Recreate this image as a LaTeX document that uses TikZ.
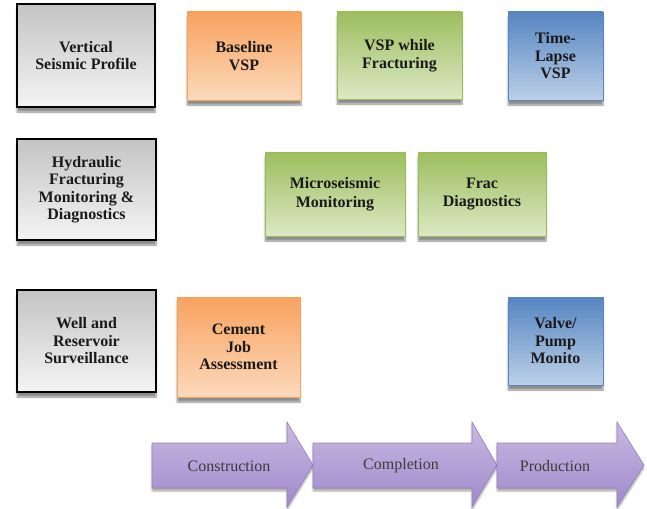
\documentclass[tikz,border=0pt]{standalone}
\usepackage{fontspec}
\setmainfont{Liberation Serif}
\newfontfamily\tnr{Liberation Serif}
\usetikzlibrary{shadows.blur}
\definecolor{grayT}{HTML}{C4C4C4}
\definecolor{grayB}{HTML}{F4F4F4}
\definecolor{orT}{HTML}{F8A25E}
\definecolor{orB}{HTML}{FCD9BC}
\definecolor{orD}{HTML}{F2A35E}
\definecolor{grT}{HTML}{9DBE5E}
\definecolor{grB}{HTML}{DCE8C4}
\definecolor{grD}{HTML}{9BBB59}
\definecolor{blT}{HTML}{5585C1}
\definecolor{blB}{HTML}{BCD0E8}
\definecolor{blD}{HTML}{5A84BC}
\definecolor{puT}{HTML}{C9B8E2}
\definecolor{puB}{HTML}{A08ACB}
\definecolor{puD}{HTML}{9480BA}
\definecolor{txt}{HTML}{1A1A1A}
\tikzset{
  base/.style={align=center, text=txt, font=\tnr\fontsize{16}{17.5}\selectfont\bfseries,
    inner sep=2pt, shading=axis, shading angle=0,
    blur shadow={shadow xshift=0pt, shadow yshift=-5pt, shadow blur steps=6, shadow opacity=45}},
  catbox/.style={base, draw=black, line width=2.2pt, top color=grayT, bottom color=grayB},
  orbox/.style={base, draw=orD, line width=0.6pt, top color=orT, bottom color=orB},
  grbox/.style={base, draw=grD, line width=0.6pt, top color=grT, bottom color=grB},
  blbox/.style={base, draw=blD, line width=0.6pt, top color=blT, bottom color=blB},
  phase/.style={draw=puD, line width=0.6pt, top color=puT, bottom color=puB,
    blur shadow={shadow xshift=0pt, shadow yshift=-3pt, shadow blur steps=5, shadow opacity=35}},
  phasetxt/.style={text=txt!85, font=\tnr\fontsize{16}{17}\selectfont}
}
\begin{document}
\begin{tikzpicture}[x=1pt, y=-1pt]
\useasboundingbox (0,0) rectangle (647,508);
% category boxes
\node[catbox, minimum width=138pt, minimum height=103pt] (vsp) at (86,55.5) {Vertical\\Seismic Profile};
\node[catbox, minimum width=139pt, minimum height=101pt] (hfm) at (86.5,189.5) {Hydraulic\\Fracturing\\Monitoring \&\\Diagnostics};
\node[catbox, minimum width=139pt, minimum height=102pt] (wrs) at (86.5,341) {Well and\\Reservoir\\Surveillance};
% row 1
\node[orbox, minimum width=114pt, minimum height=88pt] (base) at (244,56) {Baseline\\VSP};
\node[grbox, minimum width=125pt, minimum height=87pt] (vspf) at (399.5,55.5) {VSP while\\Fracturing};
\node[blbox, minimum width=95pt, minimum height=88pt] (tl) at (555.5,56) {Time-\\Lapse\\VSP};
% row 2
\node[grbox, minimum width=140pt, minimum height=84pt] (micro) at (335,194) {Microseismic\\[2pt]Monitoring};
\node[grbox, minimum width=128pt, minimum height=84pt] (frac) at (482,194) {Frac\\Diagnostics};
% row 3
\node[orbox, minimum width=123pt, minimum height=100pt] (cem) at (238.5,347) {Cement\\Job\\Assessment};
\node[blbox, minimum width=95pt, minimum height=88pt] (valve) at (555.5,341) {Valve/\\Pump\\Monito};
% phase arrows
\draw[phase] (152,443) -- (287,443) -- (287,422) -- (313,465) -- (287,507) -- (287,488) -- (152,488) -- cycle;
\draw[phase] (313,443) -- (472,443) -- (472,422) -- (497,465) -- (472,507) -- (472,488) -- (313,488) -- cycle;
\draw[phase] (497,443) -- (617,443) -- (617,422) -- (644,465) -- (617,507) -- (617,488) -- (497,488) -- cycle;
\node[phasetxt] (con) at (229,466) {Construction};
\node[phasetxt] (com) at (401,466) {Completion};
\node[phasetxt] (pro) at (555,466) {Production};
\end{tikzpicture}
\end{document}
